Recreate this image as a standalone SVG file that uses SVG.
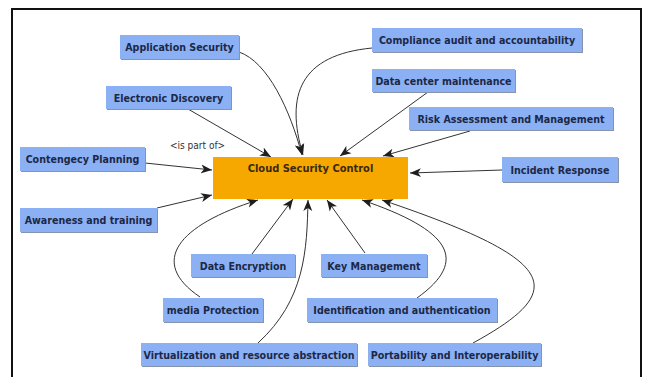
<svg xmlns="http://www.w3.org/2000/svg" width="646" height="377" viewBox="0 0 646 377">
  <style>
    .box { fill: #8cb0f4; }
    .shadow { fill: #8593ad; }
    .lbl { font-family: "DejaVu Sans Condensed", "DejaVu Sans", sans-serif; font-weight: bold; font-size: 10.6px; fill: #1b2846; text-anchor: middle; }
    .hub { fill: #f7a800; }
    .hublbl { font-family: "DejaVu Sans Condensed", "DejaVu Sans", sans-serif; font-weight: bold; font-size: 11px; fill: #3a2a12; text-anchor: middle; }
    .edge { fill: none; stroke: #333; stroke-width: 1; marker-end: url(#arrow); }
    .note { font-family: "DejaVu Sans Condensed", "DejaVu Sans", sans-serif; font-size: 10px; fill: #333; }
  </style>
  <defs>
    <marker id="arrow" markerUnits="userSpaceOnUse" markerWidth="12" markerHeight="10" viewBox="0 0 12 10" refX="11" refY="5" orient="auto">
      <path d="M0,0.5 L11,5 L0,9.5 L3,5 Z" fill="#1e1e1e"/>
    </marker>
  </defs>

  <rect width="646" height="377" fill="#ffffff"/>
  <!-- frame, open at the bottom edge -->
  <path d="M12,380 V9 H641 V380" fill="none" stroke="#111" stroke-width="2"/>

  <!-- connectors -->
  <g id="connectors">
    <path class="edge" d="M239,52 C268,62 290,110 302,155"/>
    <path class="edge" d="M372,48 C300,55 285,95 303,155"/>
    <path class="edge" d="M188,109 L271,157"/>
    <path class="edge" d="M145,163 L212,170"/>
    <path class="edge" d="M428,92 L340,156"/>
    <path class="edge" d="M470,131 L383,156"/>
    <path class="edge" d="M502,170 L410,173"/>
    <path class="edge" d="M157,208 L212,195"/>
    <path class="edge" d="M200,297 C148,262 178,225 258,200"/>
    <path class="edge" d="M252,254 L293,199"/>
    <path class="edge" d="M258,343 C305,300 307,250 308,200"/>
    <path class="edge" d="M365,253 L327,200"/>
    <path class="edge" d="M417,298 C470,260 450,230 362,200"/>
    <path class="edge" d="M473,343 C570,290 560,260 382,200"/>
  </g>

  <text class="note" x="170" y="149">&lt;is part of&gt;</text>

  <g id="cloud-security-control">
    <rect class="hub" x="213" y="157" width="195" height="42"/>
    <text class="hublbl" x="310.5" y="172">Cloud Security Control</text>
  </g>

  <g id="application-security">
    <rect class="shadow" x="121" y="36" width="119" height="24"/>
    <rect class="box" x="120" y="35" width="119" height="24"/>
    <text class="lbl" x="179.5" y="51">Application Security</text>
  </g>
  <g id="electronic-discovery">
    <rect class="shadow" x="107" y="87" width="125" height="23"/>
    <rect class="box" x="106" y="86" width="125" height="23"/>
    <text class="lbl" x="168.5" y="101.5">Electronic Discovery</text>
  </g>
  <g id="contengecy-planning">
    <rect class="shadow" x="21" y="148" width="125" height="24"/>
    <rect class="box" x="20" y="147" width="125" height="24"/>
    <text class="lbl" x="82.5" y="163">Contengecy Planning</text>
  </g>
  <g id="compliance-audit">
    <rect class="shadow" x="373" y="29" width="210" height="24"/>
    <rect class="box" x="372" y="28" width="210" height="24"/>
    <text class="lbl" x="477" y="44">Compliance audit and accountability</text>
  </g>
  <g id="data-center-maintenance">
    <rect class="shadow" x="373" y="70" width="143" height="23"/>
    <rect class="box" x="372" y="69" width="143" height="23"/>
    <text class="lbl" x="443.5" y="84.5">Data center maintenance</text>
  </g>
  <g id="risk-assessment">
    <rect class="shadow" x="410" y="108" width="204" height="23"/>
    <rect class="box" x="409" y="107" width="204" height="23"/>
    <text class="lbl" x="511" y="122.5">Risk Assessment and Management</text>
  </g>
  <g id="incident-response">
    <rect class="shadow" x="503" y="158" width="116" height="25"/>
    <rect class="box" x="502" y="157" width="116" height="25"/>
    <text class="lbl" x="560" y="173.5">Incident Response</text>
  </g>
  <g id="awareness-training">
    <rect class="shadow" x="21" y="209" width="137" height="24"/>
    <rect class="box" x="20" y="208" width="137" height="24"/>
    <text class="lbl" x="88.5" y="224">Awareness and training</text>
  </g>
  <g id="data-encryption">
    <rect class="shadow" x="192" y="255" width="104" height="23"/>
    <rect class="box" x="191" y="254" width="104" height="23"/>
    <text class="lbl" x="243" y="269.5">Data Encryption</text>
  </g>
  <g id="key-management">
    <rect class="shadow" x="322" y="255" width="106" height="23"/>
    <rect class="box" x="321" y="254" width="106" height="23"/>
    <text class="lbl" x="374" y="269.5">Key Management</text>
  </g>
  <g id="media-protection">
    <rect class="shadow" x="164" y="299" width="100" height="24"/>
    <rect class="box" x="163" y="298" width="100" height="24"/>
    <text class="lbl" x="213" y="314">media Protection</text>
  </g>
  <g id="identification-authentication">
    <rect class="shadow" x="308" y="299" width="190" height="24"/>
    <rect class="box" x="307" y="298" width="190" height="24"/>
    <text class="lbl" x="402" y="314">Identification and authentication</text>
  </g>
  <g id="virtualization">
    <rect class="shadow" x="142" y="344" width="216" height="23"/>
    <rect class="box" x="141" y="343" width="216" height="23"/>
    <text class="lbl" x="249" y="358.5">Virtualization and resource abstraction</text>
  </g>
  <g id="portability-interoperability">
    <rect class="shadow" x="369" y="344" width="173" height="23"/>
    <rect class="box" x="368" y="343" width="173" height="23"/>
    <text class="lbl" x="454.5" y="358.5">Portability and Interoperability</text>
  </g>
</svg>
